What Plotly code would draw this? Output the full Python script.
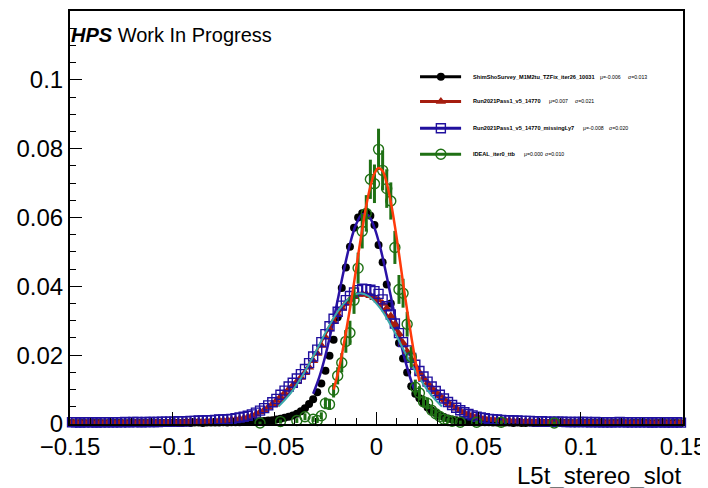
import numpy as np
import plotly.graph_objects as go

# ---------------- binning ----------------
N_BINS = 150
X_MIN, X_MAX = -0.15, 0.15
bin_width = (X_MAX - X_MIN) / N_BINS
bin_centers = X_MIN + bin_width * (np.arange(N_BINS) + 0.5)

# ---------------- data (normalised histograms) ----------------
shimsho_vals = [
    0.0003, 0.0002, 0.0003, 0.0003, 0.0002, 0.0003, 0.0003, 0.0003, 0.0002, 0.0003,
    0.0003, 0.0003, 0.0003, 0.0002, 0.0003, 0.0003, 0.0003, 0.0003, 0.0003, 0.0003,
    0.0003, 0.0003, 0.0003, 0.0003, 0.0003, 0.0004, 0.0003, 0.0003, 0.0004, 0.0003,
    0.0004, 0.0004, 0.0003, 0.0004, 0.0004, 0.0004, 0.0004, 0.0005, 0.0004, 0.0005,
    0.0005, 0.0005, 0.0006, 0.0006, 0.0006, 0.0007, 0.0008, 0.0009, 0.0010, 0.0011,
    0.0013, 0.0015, 0.0018, 0.0021, 0.0025, 0.0030, 0.0037, 0.0046, 0.0058, 0.0072,
    0.0092, 0.0118, 0.0155, 0.0198, 0.0245, 0.0310, 0.0395, 0.0455, 0.0515, 0.0570,
    0.0600, 0.0612, 0.0615, 0.0605, 0.0578, 0.0520, 0.0470, 0.0405, 0.0350, 0.0285,
    0.0235, 0.0190, 0.0150, 0.0110, 0.0088, 0.0075, 0.0060, 0.0048, 0.0039, 0.0031,
    0.0025, 0.0020, 0.0016, 0.0013, 0.0011, 0.0009, 0.0008, 0.0007, 0.0006, 0.0006,
    0.0005, 0.0005, 0.0005, 0.0004, 0.0004, 0.0004, 0.0004, 0.0004, 0.0003, 0.0004,
    0.0003, 0.0003, 0.0004, 0.0003, 0.0003, 0.0003, 0.0003, 0.0003, 0.0003, 0.0003,
    0.0003, 0.0003, 0.0003, 0.0002, 0.0003, 0.0003, 0.0003, 0.0003, 0.0003, 0.0003,
    0.0003, 0.0002, 0.0003, 0.0003, 0.0003, 0.0003, 0.0002, 0.0003, 0.0003, 0.0003,
    0.0003, 0.0003, 0.0002, 0.0003, 0.0003, 0.0003, 0.0002, 0.0003, 0.0003, 0.0002,
]

run2021_vals = [
    0.0004, 0.0005, 0.0004, 0.0004, 0.0005, 0.0004, 0.0004, 0.0005, 0.0004, 0.0005,
    0.0005, 0.0004, 0.0005, 0.0005, 0.0004, 0.0005, 0.0005, 0.0005, 0.0005, 0.0006,
    0.0005, 0.0006, 0.0005, 0.0006, 0.0006, 0.0006, 0.0006, 0.0006, 0.0007, 0.0007,
    0.0007, 0.0007, 0.0008, 0.0008, 0.0009, 0.0009, 0.0010, 0.0010, 0.0011, 0.0012,
    0.0013, 0.0015, 0.0017, 0.0020, 0.0024, 0.0029, 0.0035, 0.0041, 0.0049, 0.0058,
    0.0068, 0.0079, 0.0090, 0.0101, 0.0112, 0.0123, 0.0135, 0.0149, 0.0165, 0.0184,
    0.0205, 0.0228, 0.0252, 0.0276, 0.0298, 0.0318, 0.0336, 0.0350, 0.0362, 0.0370,
    0.0376, 0.0378, 0.0377, 0.0373, 0.0367, 0.0360, 0.0350, 0.0336, 0.0314, 0.0290,
    0.0262, 0.0235, 0.0210, 0.0188, 0.0168, 0.0150, 0.0134, 0.0119, 0.0105, 0.0094,
    0.0083, 0.0073, 0.0063, 0.0054, 0.0046, 0.0039, 0.0033, 0.0028, 0.0024, 0.0020,
    0.0018, 0.0016, 0.0014, 0.0013, 0.0012, 0.0011, 0.0010, 0.0010, 0.0009, 0.0009,
    0.0008, 0.0008, 0.0008, 0.0007, 0.0007, 0.0007, 0.0006, 0.0006, 0.0006, 0.0006,
    0.0006, 0.0005, 0.0005, 0.0006, 0.0005, 0.0005, 0.0005, 0.0005, 0.0005, 0.0004,
    0.0005, 0.0004, 0.0005, 0.0004, 0.0004, 0.0005, 0.0004, 0.0004, 0.0004, 0.0004,
    0.0004, 0.0004, 0.0004, 0.0004, 0.0003, 0.0004, 0.0004, 0.0003, 0.0004, 0.0004,
]

missing_ly7_vals = [
    0.0005, 0.0005, 0.0004, 0.0005, 0.0005, 0.0005, 0.0004, 0.0005, 0.0005, 0.0005,
    0.0005, 0.0005, 0.0005, 0.0006, 0.0005, 0.0006, 0.0006, 0.0005, 0.0006, 0.0006,
    0.0006, 0.0006, 0.0007, 0.0007, 0.0007, 0.0007, 0.0008, 0.0008, 0.0008, 0.0009,
    0.0009, 0.0010, 0.0010, 0.0011, 0.0011, 0.0012, 0.0013, 0.0013, 0.0014, 0.0015,
    0.0017, 0.0019, 0.0021, 0.0024, 0.0028, 0.0033, 0.0039, 0.0046, 0.0054, 0.0063,
    0.0073, 0.0085, 0.0097, 0.0109, 0.0120, 0.0132, 0.0145, 0.0160, 0.0177, 0.0196,
    0.0216, 0.0238, 0.0261, 0.0284, 0.0306, 0.0326, 0.0344, 0.0360, 0.0372, 0.0382,
    0.0389, 0.0393, 0.0392, 0.0390, 0.0386, 0.0378, 0.0362, 0.0342, 0.0318, 0.0292,
    0.0264, 0.0238, 0.0214, 0.0192, 0.0172, 0.0154, 0.0138, 0.0123, 0.0109, 0.0096,
    0.0085, 0.0074, 0.0064, 0.0055, 0.0047, 0.0040, 0.0034, 0.0029, 0.0025, 0.0021,
    0.0019, 0.0017, 0.0015, 0.0014, 0.0013, 0.0012, 0.0011, 0.0011, 0.0010, 0.0010,
    0.0009, 0.0009, 0.0009, 0.0008, 0.0008, 0.0008, 0.0007, 0.0007, 0.0007, 0.0007,
    0.0007, 0.0006, 0.0006, 0.0006, 0.0006, 0.0006, 0.0006, 0.0005, 0.0006, 0.0005,
    0.0005, 0.0005, 0.0005, 0.0005, 0.0006, 0.0005, 0.0005, 0.0005, 0.0005, 0.0005,
    0.0005, 0.0005, 0.0004, 0.0005, 0.0005, 0.0004, 0.0005, 0.0004, 0.0005, 0.0004,
]

# IDEAL sample: low statistics, only non-empty bins are drawn
ideal_x = [-0.057, -0.047, -0.039, -0.035, -0.031, -0.029, -0.027, -0.025, -0.023, -0.021,
           -0.019, -0.017, -0.015, -0.013, -0.011, -0.009, -0.007, -0.005, -0.003, -0.001,
           0.001, 0.003, 0.005, 0.007, 0.009, 0.011, 0.013, 0.015, 0.017, 0.019,
           0.021, 0.023, 0.025, 0.027, 0.029, 0.031, 0.033, 0.035, 0.037, 0.041,
           0.049, 0.061, 0.087]
ideal_vals = [0.0003, 0.0007, 0.0010, 0.0021, 0.0014, 0.0010, 0.0024, 0.0060, 0.0057, 0.0098,
              0.0140, 0.0178, 0.0240, 0.0265, 0.0360, 0.0453, 0.0560, 0.0612, 0.0711, 0.0698,
              0.0798, 0.0737, 0.0684, 0.0648, 0.0513, 0.0391, 0.0380, 0.0290, 0.0195, 0.0107,
              0.0090, 0.0065, 0.0060, 0.0040, 0.0030, 0.0022, 0.0014, 0.0010, 0.0008, 0.0005,
              0.0005, 0.0005, 0.0003]
ideal_errs = [0.0004, 0.0006, 0.0007, 0.0010, 0.0008, 0.0007, 0.0010, 0.0017, 0.0016, 0.0021,
              0.0025, 0.0028, 0.0033, 0.0035, 0.0040, 0.0045, 0.0050, 0.0053, 0.0057, 0.0056,
              0.0060, 0.0058, 0.0056, 0.0054, 0.0048, 0.0042, 0.0042, 0.0036, 0.0030, 0.0022,
              0.0020, 0.0017, 0.0017, 0.0013, 0.0012, 0.0010, 0.0008, 0.0007, 0.0006, 0.0005,
              0.0005, 0.0005, 0.0004]

# ---------------- Gaussian fit curves ----------------
fit_shimsho_x = [-0.031, -0.028, -0.025, -0.022, -0.019, -0.016, -0.013, -0.010, -0.007,
                 -0.004, -0.001, 0.002, 0.005, 0.008, 0.011, 0.014, 0.017, 0.0185]
fit_shimsho_y = [0.0088, 0.0136, 0.0199, 0.0275, 0.0360, 0.0446, 0.0523, 0.0580, 0.0609,
                 0.0606, 0.0570, 0.0509, 0.0429, 0.0342, 0.0259, 0.0185, 0.0125, 0.0101]

fit_run2021_x = [-0.049, -0.043, -0.037, -0.031, -0.025, -0.019, -0.013, -0.007,
                 -0.001, 0.005, 0.011, 0.017, 0.023, 0.029, 0.035]
fit_run2021_y = [0.0051, 0.0086, 0.0135, 0.0195, 0.0260, 0.0318, 0.0360, 0.0375,
                 0.0360, 0.0318, 0.0260, 0.0195, 0.0135, 0.0086, 0.0051]

fit_ly7_x = [-0.048, -0.042, -0.036, -0.030, -0.024, -0.018, -0.012, -0.008,
             -0.004, 0.002, 0.008, 0.014, 0.020, 0.026, 0.032]
fit_ly7_y = [0.0051, 0.0090, 0.0143, 0.0207, 0.0276, 0.0335, 0.0372, 0.0380,
             0.0372, 0.0335, 0.0276, 0.0207, 0.0143, 0.0090, 0.0051]

fit_ideal_x = [-0.021, -0.019, -0.017, -0.015, -0.013, -0.011, -0.009, -0.007, -0.005, -0.003,
               -0.001, 0.001, 0.003, 0.005, 0.007, 0.009, 0.011, 0.013, 0.015, 0.017,
               0.019, 0.021]
fit_ideal_y = [0.0100, 0.0145, 0.0200, 0.0265, 0.0335, 0.0410, 0.0490, 0.0565, 0.0635, 0.0690,
               0.0728, 0.0744, 0.0735, 0.0700, 0.0645, 0.0575, 0.0495, 0.0410, 0.0330, 0.0255,
               0.0185, 0.0125]

# ---------------- labels ----------------
series_names = ["ShimShoSurvey_M1M2tu_TZFix_iter26_10031",
                "Run2021Pass1_v5_14770",
                "Run2021Pass1_v5_14770_missingLy7",
                "IDEAL_iter0_ttb"]
series_mu = ["μ=-0.006", "μ=0.007", "μ=-0.008", "μ=0.000"]
series_sigma = ["σ=0.013", "σ=0.021", "σ=0.020", "σ=0.010"]

x_tickvals = [-0.15, -0.1, -0.05, 0, 0.05, 0.1, 0.15]
x_ticktext = ["\u22120.15", "\u22120.1", "\u22120.05", "0", "0.05", "0.1", "0.15"]
y_tickvals = [0, 0.02, 0.04, 0.06, 0.08, 0.1]
y_ticktext = ["0", "0.02", "0.04", "0.06", "0.08", "0.1"]
x_title = "L5t_stereo_slot"

# ---------------- styles ----------------
FONT = "Liberation Sans, Arial, Helvetica, sans-serif"
C_BLACK = "#000000"
C_RED = "#a51d0f"
C_BLUE = "#20109e"
C_GREEN = "#1f7014"
C_FIT_BLACK = "#2a12a6"
C_FIT_RED = "#a8180c"
C_FIT_BLUE = "#3aa8ac"
C_FIT_GREEN = "#ff3a0a"

markers = [
    dict(symbol="circle", size=8, color=C_BLACK),
    dict(symbol="triangle-up", size=9, color=C_RED),
    dict(symbol="square-open", size=9, color=C_BLUE, line=dict(color=C_BLUE, width=1.4)),
    dict(symbol="circle-open", size=10, color=C_GREEN, line=dict(color=C_GREEN, width=1.4)),
]
line_colors = [C_BLACK, C_RED, C_BLUE, C_GREEN]

fig = go.Figure()

# ROOT drawing order: hist, its fit, next hist, its fit...
fig.add_trace(go.Scatter(x=bin_centers, y=shimsho_vals, mode="markers",
                         marker=markers[0], cliponaxis=False, showlegend=False))
fig.add_trace(go.Scatter(x=fit_shimsho_x, y=fit_shimsho_y, mode="lines",
                         line=dict(color=C_FIT_BLACK, width=2.5, shape="spline"), showlegend=False))

fig.add_trace(go.Scatter(x=bin_centers, y=run2021_vals, mode="markers",
                         marker=markers[1], cliponaxis=False, showlegend=False))
fig.add_trace(go.Scatter(x=fit_run2021_x, y=fit_run2021_y, mode="lines",
                         line=dict(color=C_FIT_RED, width=2.5, shape="spline"), showlegend=False))

fig.add_trace(go.Scatter(x=bin_centers, y=missing_ly7_vals, mode="markers",
                         marker=markers[2], cliponaxis=False, showlegend=False))
fig.add_trace(go.Scatter(x=fit_ly7_x, y=fit_ly7_y, mode="lines",
                         line=dict(color=C_FIT_BLUE, width=2, shape="spline"), showlegend=False))

fig.add_trace(go.Scatter(x=ideal_x, y=ideal_vals, mode="markers",
                         marker=markers[3], cliponaxis=False, showlegend=False,
                         error_y=dict(type="data", array=ideal_errs, color=C_GREEN,
                                      thickness=3, width=0)))
fig.add_trace(go.Scatter(x=fit_ideal_x, y=fit_ideal_y, mode="lines",
                         line=dict(color=C_FIT_GREEN, width=2.5, shape="spline"), showlegend=False))

# ---------------- hand-drawn ROOT-style legend (overlay axes in plot fractions) ----------------
LEG_ROWS = [0.841, 0.781, 0.716, 0.653]
LEG_X0, LEG_XM, LEG_X1 = 0.571, 0.605, 0.638
LEG_TEXT_X = 0.654
MU_X = [0.861, 0.778, 0.833, 0.737]
SIG_X = [0.907, 0.821, 0.876, 0.771]

for k, yy in enumerate(LEG_ROWS):
    fig.add_trace(go.Scatter(x=[LEG_X0, LEG_X1], y=[yy, yy], mode="lines",
                             line=dict(color=line_colors[k], width=3),
                             xaxis="x2", yaxis="y2", showlegend=False, hoverinfo="skip"))
    fig.add_trace(go.Scatter(x=[LEG_XM], y=[yy], mode="markers", marker=markers[k],
                             xaxis="x2", yaxis="y2", showlegend=False, hoverinfo="skip",
                             cliponaxis=False))

annotations = []
for k, yy in enumerate(LEG_ROWS):
    annotations.append(dict(text="<b>" + series_names[k] + "</b>", x=LEG_TEXT_X, y=yy,
                            xref="paper", yref="paper", xanchor="left", yanchor="middle",
                            showarrow=False, font=dict(family=FONT, size=5.6, color="black")))
    annotations.append(dict(text=series_mu[k], x=MU_X[k], y=yy,
                            xref="paper", yref="paper", xanchor="left", yanchor="middle",
                            showarrow=False, font=dict(family=FONT, size=5.2, color="black")))
    annotations.append(dict(text=series_sigma[k], x=SIG_X[k], y=yy,
                            xref="paper", yref="paper", xanchor="left", yanchor="middle",
                            showarrow=False, font=dict(family=FONT, size=5.2, color="black")))

annotations.append(dict(text="<b><i>HPS</i></b> Work In Progress", x=-0.002, y=0.942,
                        xref="paper", yref="paper", xanchor="left", yanchor="middle",
                        showarrow=False, font=dict(family=FONT, size=20, color="black")))
annotations.append(dict(text=x_title, x=1.0, y=-0.124, xref="paper", yref="paper",
                        xanchor="right", yanchor="middle", showarrow=False,
                        font=dict(family=FONT, size=24, color="black")))

# the page body adds an 8 px offset, so the figure is 8 px smaller than the window
fig.update_layout(
    width=700, height=480,
    margin=dict(l=62, r=25, t=1, b=64),
    paper_bgcolor="white", plot_bgcolor="white",
    font=dict(family=FONT, color="black"),
    showlegend=False,
    annotations=annotations,
    xaxis=dict(range=[X_MIN, X_MAX], tickmode="array", tickvals=x_tickvals, ticktext=x_ticktext,
               ticks="inside", ticklen=12, tickwidth=1, tickcolor="black",
               minor=dict(tickmode="linear", tick0=0, dtick=0.01, ticks="inside", ticklen=6,
                          tickwidth=1, tickcolor="black"),
               showline=True, linecolor="black", linewidth=2, mirror=True,
               showgrid=False, zeroline=False,
               tickfont=dict(family=FONT, size=24, color="black")),
    yaxis=dict(range=[0, 0.12], tickmode="array", tickvals=y_tickvals, ticktext=y_ticktext,
               ticks="inside", ticklen=12, tickwidth=1, tickcolor="black",
               minor=dict(tickmode="linear", tick0=0, dtick=0.005, ticks="inside", ticklen=6,
                          tickwidth=1, tickcolor="black"),
               showline=True, linecolor="black", linewidth=2, mirror=True,
               showgrid=False, zeroline=False,
               tickfont=dict(family=FONT, size=24, color="black")),
    xaxis2=dict(overlaying="x", range=[0, 1], visible=False, fixedrange=True),
    yaxis2=dict(overlaying="y", range=[0, 1], visible=False, fixedrange=True),
)

fig.write_html("out.html")
